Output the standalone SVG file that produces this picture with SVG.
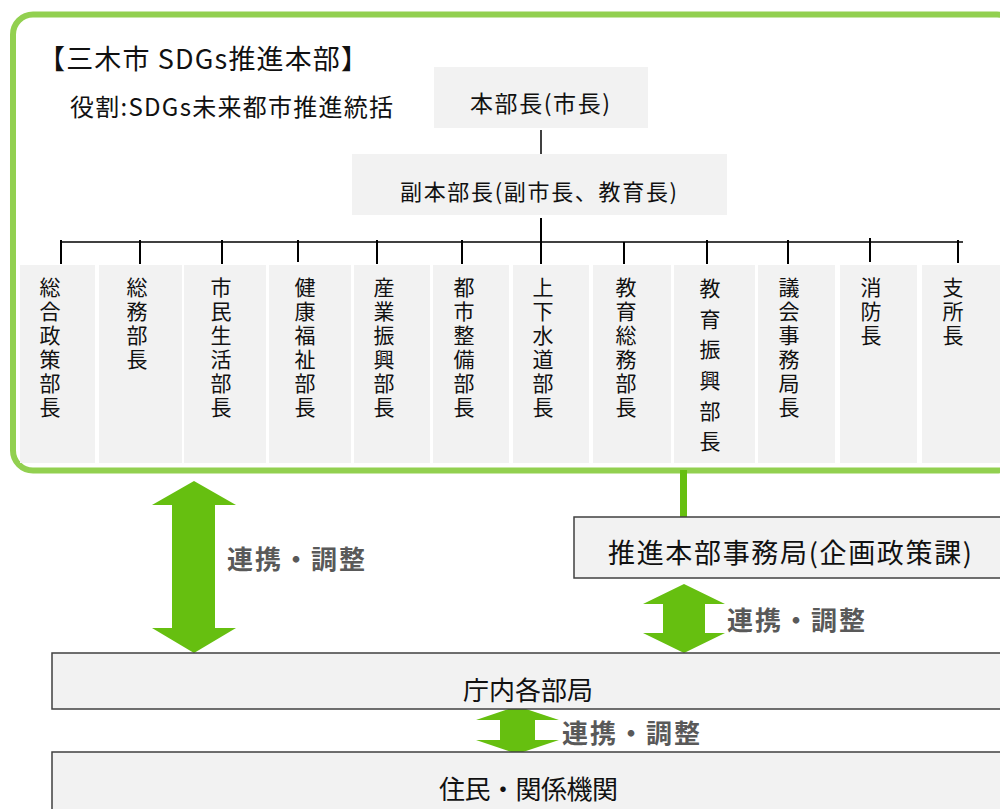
<svg xmlns="http://www.w3.org/2000/svg" width="1000" height="809" viewBox="0 0 1000 809">
<style>
text{font-family:"Noto Sans CJK JP","Noto Sans",sans-serif;fill:#111;dominant-baseline:central}
.box{fill:#F2F2F2}
.bbox{fill:#F2F2F2;stroke:#404040;stroke-width:1.5}
.col{font-size:21px;writing-mode:vertical-rl;letter-spacing:3px}
.wide{letter-spacing:9.7px}
.lbl{font-size:26px;font-weight:bold;fill:#595959}
.ln{stroke:#000;stroke-width:1.5;fill:none}
.tk{stroke:#000;stroke-width:2;fill:none}
.arr{fill:#66BF10}
</style>
<rect width="1000" height="809" fill="#fff"/>
<g id="frame">
<rect x="13" y="14.5" width="1004" height="456" rx="20" fill="none" stroke="#92D050" stroke-width="6"/>
<text x="38" y="57" font-size="27" textLength="330">【三木市 SDGs推進本部】</text>
<text x="70" y="105" font-size="24" textLength="323">役割:SDGs未来都市推進統括</text>
</g>
<g id="connectors">
<line class="ln" x1="541" y1="130" x2="541" y2="156"/>
<line class="tk" x1="541" y1="218" x2="541" y2="264"/>
<line class="ln" x1="60" y1="242" x2="963" y2="242"/>
<line class="tk" x1="61" y1="240" x2="61" y2="264"/>
<line class="tk" x1="140" y1="240" x2="140" y2="264"/>
<line class="tk" x1="222" y1="240" x2="222" y2="264"/>
<line class="tk" x1="298" y1="240" x2="298" y2="262"/>
<line class="tk" x1="377" y1="240" x2="377" y2="264"/>
<line class="tk" x1="462" y1="240" x2="462" y2="264"/>
<line class="tk" x1="624" y1="242" x2="624" y2="264"/>
<line class="tk" x1="707" y1="240" x2="707" y2="264"/>
<line class="tk" x1="788" y1="240" x2="788" y2="264"/>
<line class="tk" x1="870" y1="238" x2="870" y2="262"/>
<line class="tk" x1="958" y1="240" x2="958" y2="263"/>
<rect x="680" y="470" width="7" height="50" fill="#66BF10"/>
<polygon class="arr" points="194,481 236,505 215,505 215,628 236,628 194,653 152,628 172,628 172,505 152,505"/>
<polygon class="arr" points="684,584 725,604 705,604 705,633 725,633 684,653 643,633 663,633 663,604 643,604"/>
<polygon class="arr" points="517,706 559,720 535,720 535,740 559,740 517,754 476,740 500,740 500,720 476,720"/>
<text class="lbl" x="227" y="557" textLength="138">連携・調整</text>
<text class="lbl" x="727" y="618" textLength="138">連携・調整</text>
<text class="lbl" x="562" y="731" textLength="138">連携・調整</text>
</g>
<g id="n-honbucho">
<rect class="box" x="434" y="67" width="214" height="61"/>
<text x="470" y="102" font-size="23" textLength="140">本部長(市長)</text>
</g>
<g id="n-fukuhonbucho">
<rect class="box" x="352" y="154" width="375" height="61"/>
<text x="400" y="190" font-size="22" textLength="277">副本部長(副市長、教育長)</text>
</g>
<g id="n-c1"><rect class="box" x="20" y="265" width="75" height="198"/>
<text class="col" x="50" y="276.5">総合政策部長</text></g>
<g id="n-c2"><rect class="box" x="99" y="265" width="83" height="198"/>
<text class="col" x="137" y="276.5">総務部長</text></g>
<g id="n-c3"><rect class="box" x="184" y="265" width="82" height="198"/>
<text class="col" x="221" y="276.5">市民生活部長</text></g>
<g id="n-c4"><rect class="box" x="269" y="265" width="82" height="198"/>
<text class="col" x="305" y="276.5">健康福祉部長</text></g>
<g id="n-c5"><rect class="box" x="354" y="265" width="76" height="198"/>
<text class="col" x="384" y="276.5">産業振興部長</text></g>
<g id="n-c6"><rect class="box" x="433" y="265" width="76" height="198"/>
<text class="col" x="464" y="276.5">都市整備部長</text></g>
<g id="n-c7"><rect class="box" x="513" y="265" width="76" height="198"/>
<text class="col" x="543" y="276.5">上下水道部長</text></g>
<g id="n-c8"><rect class="box" x="593" y="265" width="78" height="198"/>
<text class="col" x="626" y="276.5">教育総務部長</text></g>
<g id="n-c9"><rect class="box" x="674" y="265" width="81" height="198"/>
<text class="col wide" x="710" y="277.5">教育振興部長</text></g>
<g id="n-c10"><rect class="box" x="758" y="265" width="77" height="198"/>
<text class="col" x="789" y="276.5">議会事務局長</text></g>
<g id="n-c11"><rect class="box" x="840" y="265" width="77" height="198"/>
<text class="col" x="871" y="276.5">消防長</text></g>
<g id="n-c12"><rect class="box" x="922" y="265" width="90" height="198"/>
<text class="col" x="953" y="276.5">支所長</text></g>
<g id="n-jimukyoku">
<rect class="bbox" x="574" y="517" width="440" height="61"/>
<text x="608" y="551" font-size="27" textLength="364">推進本部事務局(企画政策課)</text>
</g>
<g id="n-chonai">
<rect class="bbox" x="52" y="653" width="960" height="56"/>
<text x="463" y="688" font-size="26" textLength="130">庁内各部局</text>
</g>
<g id="n-jumin">
<rect class="bbox" x="52" y="752" width="960" height="70"/>
<text x="439" y="787" font-size="26" textLength="179">住民・関係機関</text>
</g>
</svg>
